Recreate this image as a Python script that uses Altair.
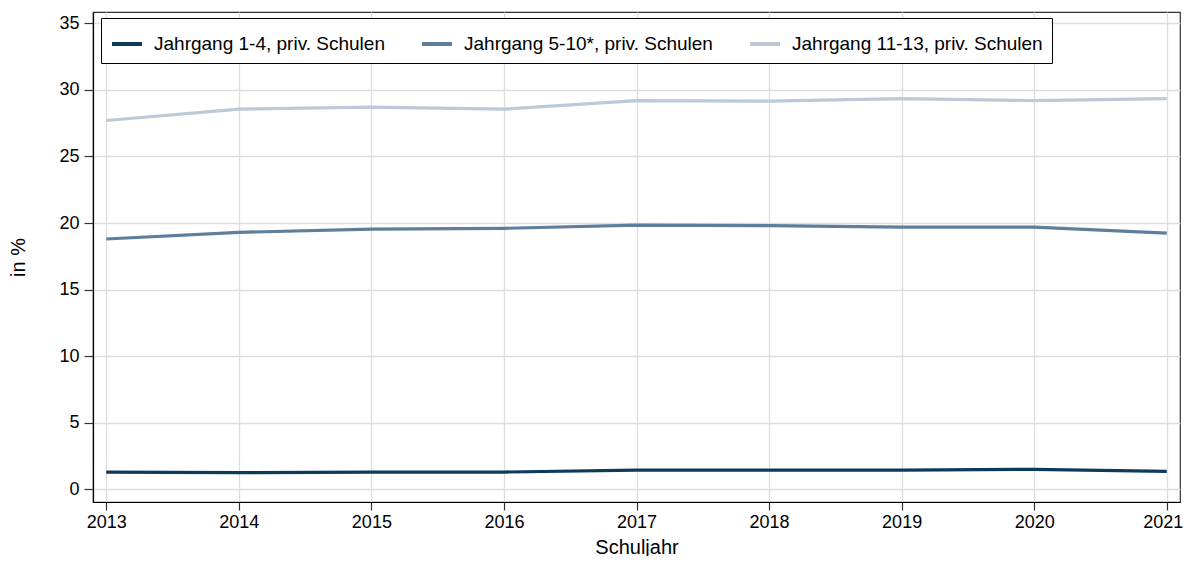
import altair as alt
import pandas as pd

years = [2013, 2014, 2015, 2016, 2017, 2018, 2019, 2020, 2021]
series_names = [
    "Jahrgang 1-4, priv. Schulen",
    "Jahrgang 5-10*, priv. Schulen",
    "Jahrgang 11-13, priv. Schulen",
]
jg_1_4 = [1.3, 1.25, 1.3, 1.3, 1.45, 1.45, 1.45, 1.5, 1.35]
jg_5_10 = [18.8, 19.3, 19.55, 19.6, 19.85, 19.8, 19.7, 19.7, 19.25]
jg_11_13 = [27.7, 28.55, 28.7, 28.55, 29.2, 29.15, 29.35, 29.2, 29.35]
colors = ["#0b3a5a", "#5f7e9b", "#bccad8"]

rows = []
for name, vals in zip(series_names, [jg_1_4, jg_5_10, jg_11_13]):
    for yr, v in zip(years, vals):
        rows.append({"Schuljahr": yr, "Wert": v, "Serie": name})
df = pd.DataFrame(rows)

FONT = "Liberation Sans"

chart = (
    alt.Chart(df)
    .mark_line(strokeWidth=3.2)
    .encode(
        x=alt.X(
            "Schuljahr:Q",
            scale=alt.Scale(domain=[2012.9, 2021.1], nice=False, zero=False),
            axis=alt.Axis(
                values=years,
                format="d",
                title="Schuljahr",
                tickSize=8,
                labelPadding=3,
                titlePadding=6,
                labelOffset={
                    "condition": {"test": "datum.value == 2021", "value": -4},
                    "value": 0,
                },
            ),
        ),
        y=alt.Y(
            "Wert:Q",
            scale=alt.Scale(domain=[-0.95, 35.85], nice=False, zero=False),
            axis=alt.Axis(
                values=[0, 5, 10, 15, 20, 25, 30, 35],
                title="in %",
                tickSize=9,
                labelPadding=5,
                titlePadding=30,
            ),
        ),
        color=alt.Color(
            "Serie:N",
            scale=alt.Scale(domain=series_names, range=colors),
            legend=alt.Legend(
                title=None,
                orient="none",
                legendX=8,
                legendY=6,
                direction="horizontal",
                columns=3,
                columnPadding=29,
                symbolType="stroke",
                symbolSize=900,
                symbolStrokeWidth=4,
                labelFontSize=19,
                labelFont=FONT,
                labelColor="black",
                labelOffset=10,
                labelLimit=500,
                padding=9,
                strokeColor="black",
                fillColor="white",
                cornerRadius=0,
            ),
        ),
    )
    .properties(
        width=1087,
        height=490,
        padding={"left": 85, "top": 4, "right": 3, "bottom": 54},
        autosize=alt.AutoSizeParams(type="none"),
    )
    .configure_view(stroke="#333333", strokeWidth=1.2)
    .configure_axis(
        labelFont=FONT,
        titleFont=FONT,
        labelFontSize=18,
        titleFontSize=20,
        titleFontWeight="normal",
        labelColor="black",
        titleColor="black",
        domainColor="black",
        domainWidth=1.2,
        tickColor="#333333",
        tickWidth=1.2,
        gridColor="#dddddd",
        gridWidth=1.3,
    )
)

chart.save("out.html", embed_options={"renderer": "svg", "actions": False})
